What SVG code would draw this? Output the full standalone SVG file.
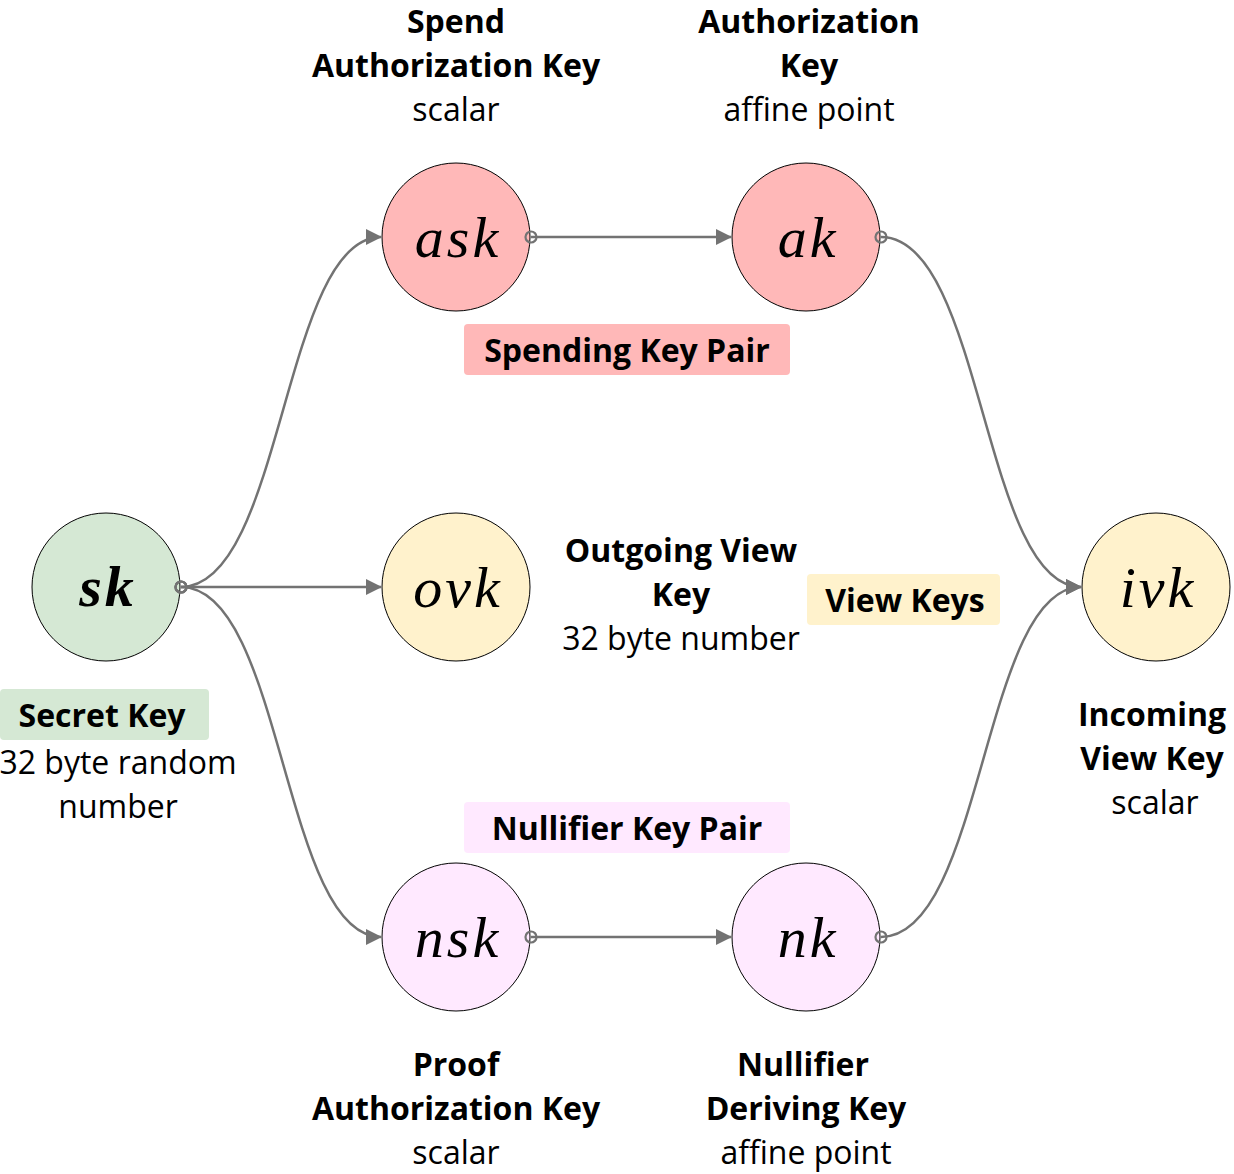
<svg xmlns="http://www.w3.org/2000/svg" width="1234" height="1174" viewBox="0 0 1234 1174">
<defs>
<marker id="arrow" viewBox="0 0 16 16" refX="15" refY="8" markerWidth="16" markerHeight="16" markerUnits="userSpaceOnUse" orient="auto">
<path d="M0,0 L16,8 L0,16 Z" fill="#737373"/>
</marker>
<marker id="dot" viewBox="0 0 16 16" refX="8" refY="8" markerWidth="16" markerHeight="16" markerUnits="userSpaceOnUse" orient="auto">
<circle cx="8" cy="8" r="5.5" fill="none" stroke="#737373" stroke-width="2.2"/>
</marker>
<style>
.node circle{stroke:#000;stroke-width:1}
.math{font-family:"Liberation Serif","DejaVu Serif",serif;font-style:italic;font-size:58px;letter-spacing:3px;text-anchor:middle;fill:#000}
.b{font-family:"Open Sans","Noto Sans",sans-serif;font-weight:bold;font-size:32px;text-anchor:middle;fill:#000}
.r{font-family:"Open Sans","Noto Sans",sans-serif;font-size:32px;text-anchor:middle;fill:#000}
.edge{fill:none;stroke:#737373;stroke-width:2.5;marker-start:url(#dot);marker-end:url(#arrow)}
</style>
</defs>
<rect width="1234" height="1174" fill="#ffffff"/>
<g id="node-sk" class="node">
<circle cx="106" cy="587" r="74" fill="#d5e8d4"/>
<text class="math" x="108" y="606" font-weight="bold">sk</text>
</g>
<g id="node-ask" class="node">
<circle cx="456" cy="237" r="74" fill="#ffb8b8"/>
<text class="math" x="458" y="257">ask</text>
</g>
<g id="node-ak" class="node">
<circle cx="806" cy="237" r="74" fill="#ffb8b8"/>
<text class="math" x="808" y="257">ak</text>
</g>
<g id="node-ovk" class="node">
<circle cx="456" cy="587" r="74" fill="#fff2cc"/>
<text class="math" x="458" y="607">ovk</text>
</g>
<g id="node-ivk" class="node">
<circle cx="1156" cy="587" r="74" fill="#fff2cc"/>
<text class="math" x="1158" y="607">ivk</text>
</g>
<g id="node-nsk" class="node">
<circle cx="456" cy="937" r="74" fill="#ffe9ff"/>
<text class="math" x="458" y="957">nsk</text>
</g>
<g id="node-nk" class="node">
<circle cx="806" cy="937" r="74" fill="#ffe9ff"/>
<text class="math" x="808" y="957">nk</text>
</g>
<g id="connectors">
<path class="edge" d="M181,587 C283,587 283,237 381,237"/>
<path class="edge" d="M181,587 L381,587"/>
<path class="edge" d="M181,587 C283,587 283,937 381,937"/>
<path class="edge" d="M531,237 L731,237"/>
<path class="edge" d="M531,937 L731,937"/>
<path class="edge" d="M881,237 C983,237 983,587 1081,587"/>
<path class="edge" d="M881,937 C983,937 983,587 1081,587"/>
</g>
<g id="label-ask">
<text class="b" x="456" y="33">Spend</text>
<text class="b" x="456" y="77">Authorization Key</text>
<text class="r" x="456" y="121">scalar</text>
</g>
<g id="label-ak">
<text class="b" x="809" y="33">Authorization</text>
<text class="b" x="809" y="77">Key</text>
<text class="r" x="809" y="121">affine point</text>
</g>
<g id="label-spending">
<rect x="464" y="324" width="326" height="51" rx="4" fill="#ffb8b8"/>
<text class="b" x="627" y="362">Spending Key Pair</text>
</g>
<g id="label-ovk">
<text class="b" x="681" y="562">Outgoing View</text>
<text class="b" x="681" y="606">Key</text>
<text class="r" x="681" y="650">32 byte number</text>
</g>
<g id="label-viewkeys">
<rect x="807" y="574" width="193" height="51" rx="4" fill="#fff2cc"/>
<text class="b" x="905" y="612">View Keys</text>
</g>
<g id="label-sk">
<rect x="0" y="689" width="209" height="51" rx="4" fill="#d5e8d4"/>
<text class="b" x="102" y="727">Secret Key</text>
<text class="r" x="118" y="774">32 byte random</text>
<text class="r" x="118" y="818">number</text>
</g>
<g id="label-ivk">
<text class="b" x="1152" y="726">Incoming</text>
<text class="b" x="1152" y="770">View Key</text>
<text class="r" x="1155" y="814">scalar</text>
</g>
<g id="label-nullifier">
<rect x="464" y="802" width="326" height="51" rx="4" fill="#ffe9ff"/>
<text class="b" x="627" y="840">Nullifier Key Pair</text>
</g>
<g id="label-nsk">
<text class="b" x="456" y="1076">Proof</text>
<text class="b" x="456" y="1120">Authorization Key</text>
<text class="r" x="456" y="1164">scalar</text>
</g>
<g id="label-nk">
<text class="b" x="803" y="1076">Nullifier</text>
<text class="b" x="806" y="1120">Deriving Key</text>
<text class="r" x="806" y="1164">affine point</text>
</g>
</svg>
